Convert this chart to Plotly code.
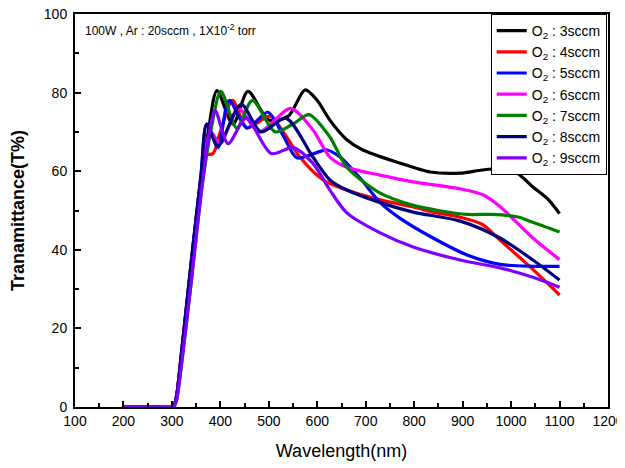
import plotly.graph_objects as go

# 파장(nm)별 투과율(T%) 데이터 - 그림에서 읽은 값
wl_3 = [200, 250, 300, 305, 310, 320, 340, 360, 375, 393, 426, 457, 500, 540, 575, 600, 626, 661, 694, 765, 833, 895, 940, 977, 1012, 1045, 1075, 1100]
t_3 = [0, 0, 0, 0.5, 3, 13, 35, 57, 70, 80.5, 72, 80.3, 73, 74, 80.7, 78, 73, 68, 65.4, 62.3, 59.8, 59.5, 60.3, 60.6, 59.5, 56, 53, 49.2]

wl_4 = [200, 250, 300, 305, 310, 320, 340, 360, 370, 385, 400, 425, 455, 502, 530, 564, 612, 661, 730, 798, 839, 895, 940, 977, 1045, 1100]
t_4 = [0, 0, 0, 0.5, 3, 14, 37, 58, 64, 64.5, 70, 78, 71, 74, 70, 63.6, 57.8, 55.2, 52.7, 50.9, 49.6, 48.3, 46.5, 42.5, 35, 28.5]

wl_5 = [200, 250, 300, 305, 310, 320, 340, 360, 372, 395, 418, 455, 498, 530, 558, 620, 647, 690, 730, 771, 839, 909, 977, 1045, 1100]
t_5 = [0, 0, 0, 0.5, 3, 14, 37, 59, 72, 66, 78, 71, 75, 69, 63.4, 65.4, 63.6, 58, 52, 48, 43, 38.7, 36.3, 35.8, 35.8]

wl_6 = [200, 250, 300, 305, 310, 320, 340, 360, 380, 400, 437, 480, 545, 591, 626, 661, 730, 798, 895, 942, 977, 1045, 1100]
t_6 = [0, 0, 0, 0.5, 3, 13, 35, 56, 70, 67, 76, 70, 76, 70.5, 63.6, 61, 59, 57.3, 55.5, 54, 51, 43, 37.5]

wl_7 = [200, 250, 300, 305, 310, 320, 340, 360, 380, 401, 434, 466, 513, 550, 583, 626, 661, 730, 798, 850, 909, 960, 1012, 1045, 1100]
t_7 = [0, 0, 0, 0.3, 2, 11, 32, 54, 70, 80.3, 71, 78, 70, 72, 74.4, 68.7, 61, 54.4, 51.3, 50, 49, 49, 48.4, 47, 44.5]

wl_8 = [200, 250, 300, 305, 310, 320, 340, 360, 372, 395, 443, 484, 535, 591, 626, 661, 730, 798, 895, 977, 1045, 1100]
t_8 = [0, 0, 0, 0.5, 3, 14, 37, 59, 72, 66.5, 77, 70, 73.5, 63.6, 57.8, 55.2, 52, 49.6, 47.3, 43, 37.4, 32.3]

wl_9 = [200, 250, 300, 305, 310, 320, 340, 360, 375, 389, 416, 453, 505, 550, 591, 626, 661, 730, 798, 895, 977, 1045, 1100]
t_9 = [0, 0, 0, 0.3, 2, 11, 32, 54, 68, 75.5, 67, 73.5, 64.5, 66, 62, 55.2, 49.4, 44.3, 40.7, 37.4, 35.4, 33, 30.5]

names = ["3sccm", "4sccm", "5sccm", "6sccm", "7sccm", "8sccm", "9sccm"]
colors = ["#000000", "#ff0000", "#0000ff", "#ff00ff", "#008000", "#000080", "#8000ff"]
series = [(wl_3, t_3), (wl_4, t_4), (wl_5, t_5), (wl_6, t_6), (wl_7, t_7), (wl_8, t_8), (wl_9, t_9)]

fig = go.Figure()
for (wl, t), name, c in zip(series, names, colors):
    fig.add_trace(go.Scatter(x=wl, y=t, mode="lines",
                             name="O<sub>2</sub> : " + name,
                             line=dict(color=c, width=3.2, shape="spline", smoothing=0.8)))

axis_style = dict(showline=True, linecolor="black", linewidth=2, mirror=True,
                  ticks="inside", ticklen=6, tickwidth=2, tickcolor="black",
                  showgrid=False, zeroline=False, automargin=False, ticklabeloverflow="allow",
                  tickfont=dict(family="Liberation Sans, Arial", size=14, color="black"))

fig.update_xaxes(range=[100, 1200], dtick=100, **axis_style,
                 minor=dict(ticks="inside", ticklen=4, tickwidth=2, tickcolor="black", dtick=50),
                 title=dict(text="Wavelength(nm)", font=dict(family="Liberation Sans, Arial", size=18, color="black"),
                            standoff=17))
fig.update_yaxes(range=[0, 100], dtick=20, **axis_style, ticklabelstandoff=3,
                 minor=dict(ticks="inside", ticklen=4, tickwidth=2, tickcolor="black", dtick=10),
                 title=dict(text="<b>Tranamittance(T%)</b>", font=dict(family="Liberation Sans, Arial", size=18, color="black"),
                            standoff=17))

fig.add_annotation(x=0.015, y=0.985, xref="paper", yref="paper", xanchor="left", yanchor="top",
                   text="100W , Ar : 20sccm , 1X10<sup>-2</sup> torr", showarrow=False,
                   font=dict(family="Liberation Sans, Arial", size=12, color="black"))

# 페이지 기본 여백(8px)을 고려한 크기
fig.update_layout(width=617, height=460, margin=dict(l=67, r=17, t=6, b=61),
                  plot_bgcolor="white", paper_bgcolor="white",
                  legend=dict(x=0.78, y=1, xanchor="left", yanchor="top",
                              bordercolor="black", borderwidth=1, bgcolor="white",
                              itemwidth=30, tracegroupgap=0,
                              font=dict(family="Liberation Sans, Arial", size=14, color="black")))

fig.write_html("out.html")
